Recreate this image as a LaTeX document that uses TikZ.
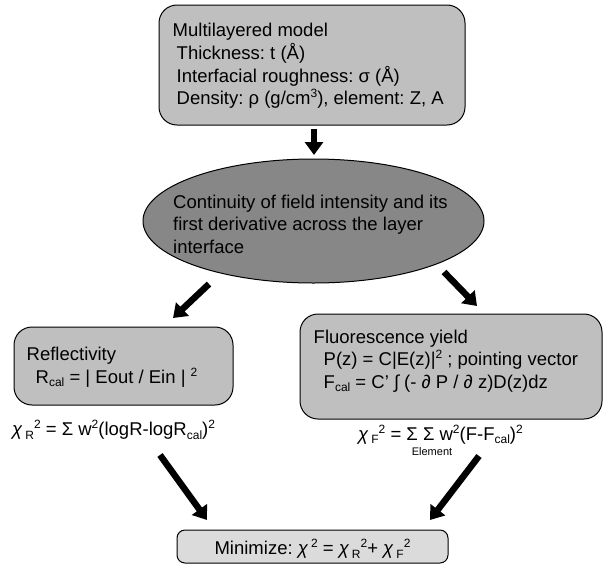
\documentclass[tikz,border=0pt]{standalone}
\usepackage{fontspec}
\setmainfont{Liberation Sans}
\usetikzlibrary{arrows.meta,shapes.geometric}
\newcommand{\chisym}{{\itshape χ}}
\newcommand{\lo}[1]{\raisebox{-3.5pt}{\fontsize{12}{12}\selectfont #1}}
\newcommand{\hi}[1]{\raisebox{7pt}{\fontsize{12}{12}\selectfont #1}}
\frenchspacing
\begin{document}
\begin{tikzpicture}[x=1pt,y=-1pt,font=\fontsize{18.5}{22.6}\selectfont,
  boxA/.style={draw=black,line width=1pt,fill=black!25,rounded corners=18pt},
  bigarrow/.style={line width=6.5pt,-{Triangle[width=18pt,length=13pt]}},
  txt/.style={inner sep=0pt,align=left}]
\useasboundingbox (0,0) rectangle (604,565);
\node[boxA,minimum width=306pt,minimum height=120pt] (model) at (312,65) {};
\node[txt,anchor=west] (modeltext) at (172.5,66)
 {Multilayered model\\
  \hspace*{4pt}Thickness: t (Å)\\
  \hspace*{4pt}Interfacial roughness: σ (Å)\\
  \hspace*{4pt}Density: ρ (g/cm\hi{3}), element: Z, A};
\node[ellipse,draw=black,line width=1pt,fill=black!47,minimum width=341pt,minimum height=124pt] (cont) at (313.5,221) {};
\node[txt,anchor=west] (conttext) at (173,224)
 {Continuity of field intensity and its\\first derivative across the layer\\interface};
\node[boxA,minimum width=219pt,minimum height=78pt] (refl) at (123.5,366) {};
\node[txt,anchor=west] (refltext) at (26.5,367)
 {Reflectivity\\
  \hspace*{9pt}R\lo{cal} = | Eout / Ein | \hi{2}};
\node[boxA,minimum width=302pt,minimum height=105pt] (fluo) at (451,366.5) {};
\node[txt,anchor=west] (fluotext) at (313.5,361)
 {Fluorescence yield\\
  \hspace*{10pt}P(z) = C|E(z)|\hi{2} ; pointing vector\\
  \hspace*{10pt}F\lo{cal} = C’ ∫ (- ∂ P / ∂ z)D(z)dz};
\node[txt,anchor=base west] (chir) at (12,435.5)
 {\chisym\,\lo{R}\hi{2} = Σ w\hi{2}(logR-logR\lo{cal})\hi{2}};
\node[txt,anchor=base west] (chif) at (358,440)
 {\chisym\,\lo{F}\hi{2} = Σ Σ w\hi{2}(F-F\lo{cal})\hi{2}};
\node[txt,font=\fontsize{11}{11}\selectfont] (elem) at (432,452) {Element};
\node[boxA,fill=black!14,rounded corners=8pt,minimum width=271pt,minimum height=33pt] (mini) at (312.5,546.5) {};
\node[txt,anchor=base] (minitext) at (312.5,554.5)
 {Minimize: \chisym\,\hi{2} = \chisym\,\lo{R}\hi{2}+ \chisym\,\lo{F}\hi{2}};
\coordinate (a1s) at (314,129);
\coordinate (a1e) at (314,155);
\coordinate (a2s) at (209,284);
\coordinate (a2e) at (173,318);
\coordinate (a3s) at (444,272);
\coordinate (a3e) at (477,306);
\coordinate (a4s) at (160,455);
\coordinate (a4e) at (207,520);
\coordinate (a5s) at (479,456);
\coordinate (a5e) at (430,520);
\draw[bigarrow] (a1s) -- (a1e);
\draw[bigarrow] (a2s) -- (a2e);
\draw[bigarrow] (a3s) -- (a3e);
\draw[bigarrow] (a4s) -- (a4e);
\draw[bigarrow] (a5s) -- (a5e);
\end{tikzpicture}
\end{document}
